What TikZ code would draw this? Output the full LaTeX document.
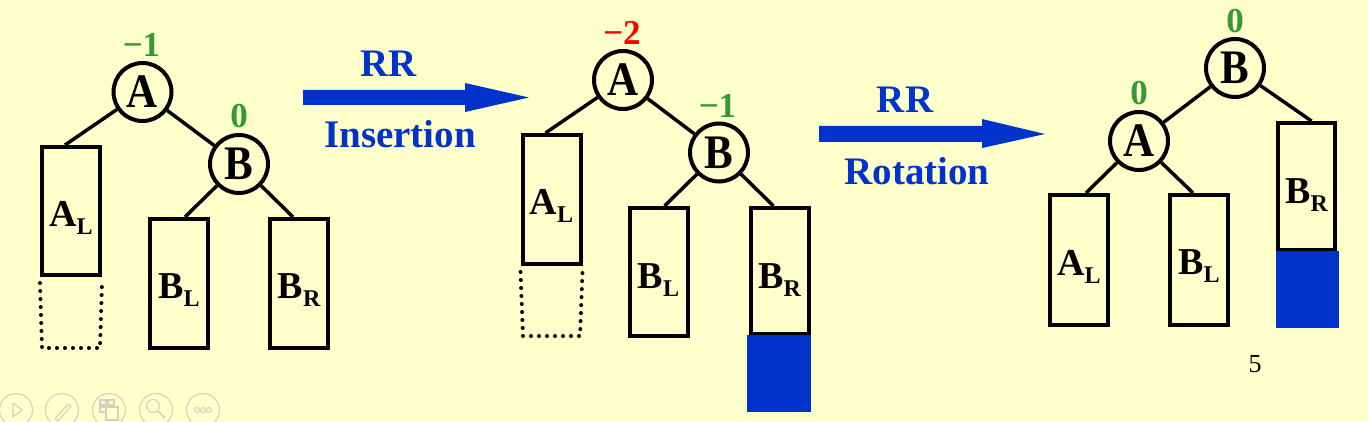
\documentclass[tikz,border=0pt]{standalone}
\usepackage{graphicx}
\usepackage{fontspec}
\setmainfont{Liberation Serif}
\definecolor{bg}{HTML}{FFFFCC}
\definecolor{pptblue}{HTML}{0033CC}
\definecolor{pptgreen}{HTML}{339933}
\definecolor{pptred}{HTML}{FF0000}
\definecolor{uigray}{HTML}{D2D2BE}
\newcommand\tallletter[1]{\scalebox{1}[1.12]{#1}}
\newcommand\subtree[2]{#1\raisebox{-8pt}{\fontsize{24}{24}\selectfont #2}}
\begin{document}
\begin{tikzpicture}[x=1pt,y=-1pt,
  tnode/.style={circle,draw,line width=4pt,minimum size=58pt,inner sep=0pt,
    font=\bfseries\fontsize{43}{43}\selectfont},
  subbox/.style={rectangle,draw,line width=4pt,minimum width=58pt,inner sep=0pt},
  sublab/.style={inner sep=0pt,font=\bfseries\fontsize{38}{38}\selectfont},
  edge/.style={line width=3.5pt},
  dotbox/.style={line width=4pt,line cap=round,dash pattern=on 0pt off 8pt},
  bal/.style={anchor=base,inner sep=0pt,font=\bfseries\fontsize{35}{35}\selectfont},
  optext/.style={anchor=base,inner sep=0pt,text=pptblue,font=\bfseries\fontsize{39}{39}\selectfont},
  ui/.style={draw=uigray,line width=1.1pt}
]
\useasboundingbox (0,0) rectangle (1368,422);
\clip (0,0) rectangle (1368,422);
\fill[bg] (0,0) rectangle (1368,422);

% ---------- tree 1 ----------
\node[tnode] (A1) at (142.5,92) {\tallletter{A}};
\node[tnode] (B1) at (239,164) {\tallletter{B}};
\node[subbox,minimum height=128pt] (AL1) at (71,211) {};
\node[subbox,minimum height=129pt] (BL1) at (179,283.5) {};
\node[subbox,minimum height=129pt] (BR1) at (299,283.5) {};
\node[sublab] (tAL1) at ([yshift=-7pt]AL1.center) {\subtree{A}{L}};
\node[sublab] (tBL1) at ([yshift=-7pt]BL1.center) {\subtree{B}{L}};
\node[sublab] (tBR1) at ([yshift=-7pt]BR1.center) {\subtree{B}{R}};
\draw[edge] (A1) -- ([xshift=-6pt]AL1.north);
\draw[edge] (A1) -- (B1);
\draw[edge] (B1) -- ([xshift=6pt]BL1.north);
\draw[edge] (B1) -- ([xshift=-6pt]BR1.north);
\draw[dotbox] ([yshift=-6pt]AL1.south west) -- (42,348) -- (100,348) -- ([yshift=-6pt]AL1.south east);
\node[bal,text=pptgreen] (bA1) at (141.5,57) {−1};
\node[bal,text=pptgreen] (bB1) at (239,128) {0};

% ---------- arrow 1 ----------
\fill[pptblue] (303,90) -- (465,90) -- (465,83) -- (529,97.5) -- (465,112) -- (465,105) -- (303,105) -- cycle;
\node[optext] (rr1) at (389,77) {RR};
\node[optext] (ins) at (400,148) {Insertion};

% ---------- tree 2 ----------
\node[tnode] (A2) at (623,80) {\tallletter{A}};
\node[tnode] (B2) at (719,152.5) {\tallletter{B}};
\node[subbox,minimum height=129pt] (AL2) at (551.5,199.5) {};
\node[subbox,minimum height=128pt] (BL2) at (658.5,272) {};
\node[subbox,minimum height=126pt] (BR2) at (779.5,271) {};
\fill[pptblue] (747,335) rectangle (811,412);
\node[sublab] (tAL2) at ([yshift=-6pt]AL2.center) {\subtree{A}{L}};
\node[sublab] (tBL2) at ([yshift=-8pt]BL2.center) {\subtree{B}{L}};
\node[sublab] (tBR2) at ([yshift=-9pt]BR2.center) {\subtree{B}{R}};
\draw[edge] (A2) -- ([xshift=-6pt]AL2.north);
\draw[edge] (A2) -- (B2);
\draw[edge] (B2) -- ([xshift=6pt]BL2.north);
\draw[edge] (B2) -- ([xshift=-6pt]BR2.north);
\draw[dotbox] ([yshift=-6pt]AL2.south west) -- (523,336) -- (580,336) -- ([yshift=-6pt]AL2.south east);
\node[bal,text=pptred] (bA2) at (622,45) {−2};
\node[bal,text=pptgreen] (bB2) at (717.5,118) {−1};

% ---------- arrow 2 ----------
\fill[pptblue] (819,126) -- (982,126) -- (982,119) -- (1045,134) -- (982,148) -- (982,142) -- (819,142) -- cycle;
\node[optext] (rr2) at (905,113) {RR};
\node[optext] (rot) at (917,185) {Rotation};

% ---------- tree 3 ----------
\node[tnode] (B3) at (1235,68) {\tallletter{B}};
\node[tnode] (A3) at (1139,141) {\tallletter{A}};
\node[subbox,minimum height=130pt] (AL3) at (1079,260) {};
\node[subbox,minimum height=130pt] (BL3) at (1199,260) {};
\node[subbox,minimum height=127pt,minimum width=57pt] (BR3) at (1306.5,186.5) {};
\fill[pptblue] (1275.5,251) rectangle (1339,328);
\node[sublab] (tAL3) at ([yshift=-6.5pt]AL3.center) {\subtree{A}{L}};
\node[sublab] (tBL3) at ([yshift=-6.5pt]BL3.center) {\subtree{B}{L}};
\node[sublab] (tBR3) at ([yshift=-8.5pt]BR3.center) {\subtree{B}{R}};
\draw[edge] (B3) -- (A3);
\draw[edge] (B3) -- ([xshift=5pt]BR3.north);
\draw[edge] (A3) -- ([xshift=7pt]AL3.north);
\draw[edge] (A3) -- ([xshift=-6pt]BL3.north);
\node[bal,text=pptgreen] (bB3) at (1235,33) {0};
\node[bal,text=pptgreen] (bA3) at (1139,105) {0};

% page number
\node[anchor=base,inner sep=0pt,font=\fontsize{26}{26}\selectfont] (pg) at (1255,372) {5};

% ---------- slideshow toolbar ----------
\foreach \cx in {16,62,109,156,203} \draw[ui] (\cx,410) circle (16.5);
\draw[ui,line join=round] (13,403) -- (13,417) -- (22,410) -- cycle;
\draw[ui] (55,419) -- (68,404) -- (71,406) -- (58,421) -- cycle;
\draw[ui] (100,400) rectangle (106,405);
\draw[ui] (108,400) rectangle (114,405);
\draw[ui] (100,407) rectangle (106,412);
\draw[ui] (106,407) rectangle (118,420);
\draw[ui] (153,406) circle (6.5);
\draw[ui,line width=1.6pt] (158,411) -- (165,418);
\foreach \cx in {197,203,209} \draw[ui] (\cx,410) circle (2.5);
\end{tikzpicture}
\end{document}
